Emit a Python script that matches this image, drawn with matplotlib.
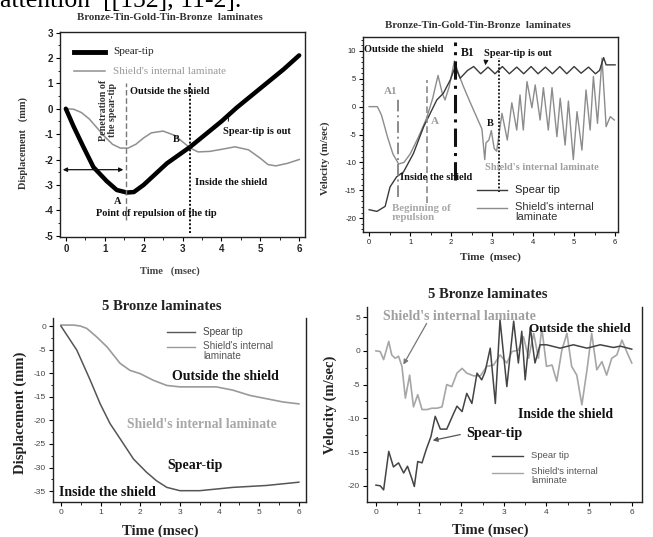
import matplotlib.pyplot as plt
from matplotlib.lines import Line2D

plt.rcParams['axes.unicode_minus'] = False

# ---- datos ----
# panel 1: desplazamiento, Bronze-Tin-Gold-Tin-Bronze
d1_t_spear = [0, 0.2, 0.45, 0.71, 1.05, 1.31, 1.57, 1.75, 2.0, 2.6, 3.2, 3.6, 4.0, 4.4, 4.8, 5.2, 5.6, 6.0]
d1_spear = [0, -0.7, -1.5, -2.3, -2.85, -3.2, -3.3, -3.28, -3.0, -2.15, -1.5, -1.0, -0.5, 0.05, 0.55, 1.05, 1.55, 2.1]
d1_t_shield = [0, 0.2, 0.4, 0.6, 0.8, 1.0, 1.2, 1.4, 1.6, 1.8, 2.0, 2.2, 2.5, 2.8, 3.0, 3.2, 3.4, 3.7,
               4.0, 4.35, 4.7, 5.0, 5.2, 5.4, 5.7, 6.0]
d1_shield = [0, -0.02, -0.15, -0.4, -0.75, -1.1, -1.4, -1.55, -1.55, -1.4, -1.15, -0.95, -0.88, -1.05,
             -1.3, -1.55, -1.7, -1.68, -1.6, -1.5, -1.62, -1.95, -2.2, -2.25, -2.15, -2.0]

# panel 2: velocidad, Bronze-Tin-Gold-Tin-Bronze
v1_t_spear = [0, 0.19, 0.39, 0.51, 0.67, 0.84, 1.08, 1.33, 1.49, 1.65, 1.81, 1.98, 2.1, 2.22, 2.4, 2.55,
              2.72, 2.9, 3.07, 3.25, 3.42, 3.6, 3.77, 3.95, 4.12, 4.3, 4.47, 4.65, 4.82, 5.0, 5.17, 5.35,
              5.52, 5.62, 5.72, 5.78, 6.0]
v1_spear = [-18.5, -18.8, -17.9, -14.4, -12.6, -11.7, -8.4, -3.6, -1.2, 1.2, 2.4, 4.8, 7.2, 5.1, 6.5, 7.2,
            5.9, 7.1, 5.9, 7.2, 5.9, 7.1, 5.9, 7.2, 5.9, 7.1, 5.9, 7.2, 5.9, 7.2, 6.0, 7.1,
            5.9, 6.5, 8.8, 7.5, 7.5]
v1_t_shield = [0, 0.2, 0.3, 0.45, 0.58, 0.72, 0.85, 1.0, 1.2, 1.4, 1.55, 1.68, 1.78, 1.85, 1.95, 2.08,
               2.2, 2.3, 2.45, 2.6, 2.75, 2.82, 2.85, 2.92, 2.98, 3.05, 3.11, 3.24, 3.37, 3.48, 3.60,
               3.68, 3.76, 3.85, 3.97, 4.05, 4.17, 4.25, 4.37, 4.46, 4.58, 4.66, 4.78, 4.86, 4.98,
               5.07, 5.19, 5.29, 5.39, 5.47, 5.57, 5.68, 5.78, 5.88, 5.98]
v1_shield = [0, 0, -1.5, -5.5, -8.5, -10.3, -10.0, -8.5, -5.5, -2.1, 1.5, 5.6, 2.5, 1.2, 3.5, 8.2,
             5.5, 3.6, 1.0, -1.5, -4.0, -9.5, -6.5, -6.0, -4.3, -7.5, -8.0, -1.2, -6.0, 0.7, -4.2,
             2.1, -4.2, 4.5, -0.2, 3.9, -2.4, 3.4, -4.2, 3.4, -5.4, 1.5, -6.9, 1.0, -9.5,
             -0.9, -7.8, 3.0, -4.2, 5.4, -3.0, 8.7, -3.6, -1.8, -2.4]

# panel 3: desplazamiento, 5 Bronze
d2_t_spear = [0, 0.4, 0.74, 0.99, 1.24, 1.58, 1.83, 2.16, 2.41, 2.67, 3.0, 3.5, 4.34, 5.18, 6.0]
d2_spear = [0, -5.1, -11.5, -16.5, -20.7, -25, -28.2, -31, -32.8, -34.2, -34.9, -34.9, -34.2, -33.8, -33.1]
d2_t_shield = [0, 0.32, 0.49, 0.65, 0.9, 1.16, 1.49, 1.74, 2.0, 2.33, 2.67, 3.0, 3.5, 3.92, 4.34, 4.76,
               5.18, 5.6, 6.0]
d2_shield = [0.2, 0.2, 0, -0.5, -2.3, -4.4, -7.9, -9.4, -10.1, -11.5, -12.6, -12.9, -12.9, -12.9, -13.6,
             -14.7, -15.4, -16.1, -16.5]

# panel 4: velocidad, 5 Bronze
v2_t_spear = [0, 0.1, 0.18, 0.3, 0.41, 0.53, 0.65, 0.74, 0.84, 0.9, 0.98, 1.08, 1.18, 1.29, 1.39, 1.51,
              1.66, 1.82, 1.9, 2.02, 2.13, 2.25, 2.37, 2.48, 2.56, 2.68, 2.8, 2.91, 3.07, 3.23, 3.34,
              3.42, 3.5, 3.62, 3.73, 3.85, 4.0, 4.32, 4.63, 4.95, 5.26, 5.57, 5.73, 6.0]
v2_spear = [-19.9, -20, -20.6, -14.9, -17.2, -16.6, -18.1, -17.1, -18.9, -20.1, -16.4, -16.6, -14.6, -12.7,
            -9.7, -11.6, -11.6, -9.3, -8.2, -9, -6.3, -7.8, -3.3, -4.3, -3.1, 0.4, -7.8, 4.6, -5.3, 4.4,
            -1.8, 2.9, -4.3, 3.4, -1.8, 0.9, 0.9, 0.4, 0.9, 0.4, 0.9, 0.5, 0.7, 0.25]
v2_t_shield = [0, 0.1, 0.18, 0.3, 0.37, 0.45, 0.53, 0.61, 0.69, 0.79, 0.88, 0.98, 1.08, 1.2, 1.31, 1.43,
               1.55, 1.66, 1.78, 1.9, 2.02, 2.13, 2.29, 2.45, 2.6, 2.76, 2.91, 3.07, 3.19, 3.34, 3.46,
               3.58, 3.7, 3.81, 3.89, 4.0, 4.13, 4.24, 4.36, 4.48, 4.59, 4.71, 4.83, 4.95, 5.06, 5.18,
               5.3, 5.41, 5.53, 5.65, 5.77, 5.88, 6.0]
v2_shield = [0, -0.1, -1.3, 1.4, -0.6, -1.1, -0.8, -2.3, -7.0, -3.6, -8.3, -6.5, -8.7, -8.7, -8.5, -8.5,
             -8.3, -5.0, -5.3, -3.3, -2.6, -3.3, -3.7, -3.7, -2.3, -2.1, -0.6, -1.8, -0.1, 0.1, 2.1,
             -1.1, 2.6, -1.1, 3.4, -2.3, -2.1, -4.5, 0.1, 2.6, -2.3, -3.6, -8.0, -2.8, 2.6, -2.8,
             -1.6, -3.6, -1.1, -0.6, 1.6, -0.1, -1.8]

W, H = 653, 537
SERIF = 'Liberation Serif'
SANS = 'Liberation Sans'


def P(px, py):
    # pixeles de la imagen -> fraccion de figura
    return px / W, 1 - py / H


def box(px0, py0, px1, py1):
    return [px0 / W, 1 - py1 / H, (px1 - px0) / W, (py1 - py0) / H]


def txt(px, py, s, size, color='#111111', bold=True, family=SERIF, **kw):
    return fig.text(*P(px, py), s, fontsize=size, color=color, family=family,
                    fontweight='bold' if bold else 'normal', va=kw.pop('va', 'center'), **kw)


def leg(px0, px1, py, color, lw, label, size, tcolor, family=SANS, bold=False, top=None):
    x0, y = P(px0, py)
    x1, _ = P(px1, py)
    fig.add_artist(Line2D([x0, x1], [y, y], color=color, lw=lw, transform=fig.transFigure))
    if top is None:
        txt(px1 + 8, py, label, size, color=tcolor, bold=bold, family=family)
    else:
        txt(px1 + 8, top, label, size, color=tcolor, bold=bold, family=family,
            va='top', linespacing=1.0)


def arrow(p_from, p_to, color, lw=0.9, style='-|>'):
    fig.add_artist(plt.matplotlib.patches.FancyArrowPatch(
        P(*p_from), P(*p_to), transform=fig.transFigure, arrowstyle=style,
        color=color, lw=lw, mutation_scale=7))


def style(ax, xticks, yticks, xminor, yminor, tsize, top=True, tcolor='#222222'):
    ax.set_xticks(xticks)
    ax.set_yticks(yticks)
    ax.set_xticks(xminor, minor=True)
    ax.set_yticks(yminor, minor=True)
    ax.tick_params(which='major', length=3, width=0.8, labelsize=tsize, labelcolor=tcolor, pad=2)
    ax.tick_params(which='minor', length=1.8, width=0.6)
    for lab in ax.get_xticklabels() + ax.get_yticklabels():
        lab.set_family(SANS)
    for s in ax.spines.values():
        s.set_linewidth(1.0)
        s.set_color('#222222')
    if not top:
        ax.spines['top'].set_visible(False)


fig = plt.figure(figsize=(W / 100, H / 100), dpi=100)

# texto cortado en la parte superior
fig.text(*P(0, 7), 'attention  [[152], 11-2].', fontsize=18.5, family=SERIF, va='baseline')

# ---------------- panel 1 ----------------
ax1 = fig.add_axes(box(60, 32, 305, 237))
ax1.plot(d1_t_shield, d1_shield, color='#8f8f8f', lw=1.1)
ax1.plot(d1_t_spear, d1_spear, color='#000000', lw=3.2, solid_capstyle='round')
ax1.set_xlim(-0.15, 6.15)
ax1.set_ylim(-5.05, 3.02)
style(ax1, range(0, 7), range(-5, 4), [i / 2 for i in range(0, 13)], [i / 2 for i in range(-10, 7)], 7)
for lab in ax1.get_xticklabels() + ax1.get_yticklabels():
    lab.set_fontweight('bold')
ax1.vlines(1.55, -4.4, 1.0, color='#777777', lw=1.0, linestyles=(0, (4, 2)))
ax1.vlines(3.2, -4.9, 1.0, color='#111111', lw=1.4, linestyles=(0, (1, 1)))
ax1.annotate('', xy=(-0.15, -2.4), xytext=(1.55, -2.4),
             arrowprops=dict(arrowstyle='<|-|>', color='#111111', lw=0.9, mutation_scale=6))
txt(170, 17, 'Bronze-Tin-Gold-Tin-Bronze  laminates', 7.8, ha='center', color='#333333')
txt(23, 143, 'Displacement   (mm)', 7.5, rotation=90, ha='center', color='#333333')
txt(170, 271, 'Time   (msec)', 7.5, ha='center', color='#444444')
leg(74, 105, 52, '#000000', 3.5, 'Spear-tip', 8, '#222222', family=SERIF)
leg(74, 105, 71, '#8f8f8f', 1.1, "Shield's internal laminate", 8, '#9a9a9a', family=SERIF)
txt(108, 110, 'Penetration of\nthe spear-tip', 7.2, rotation=90, ha='center', color='#333333',
    linespacing=1.0)
txt(130, 92, 'Outside the shield', 7.5)
txt(173, 139, 'B', 7.5)
txt(223, 131, 'Spear-tip is out', 7.5)
arrow((228, 124), (229, 115), '#111111', lw=0.7, style='-')
txt(195, 183, 'Inside the shield', 7.5)
txt(114, 201, 'A', 7.5)
txt(96, 213, 'Point of repulsion of the tip', 7.5)

# ---------------- panel 2 ----------------
ax2 = fig.add_axes(box(363, 37, 618, 232))
ax2.plot(v1_t_shield, v1_shield, color='#8c8c8c', lw=1.0)
ax2.plot(v1_t_spear, v1_spear, color='#3a3a3a', lw=1.0)
ax2.set_xlim(-0.15, 6.07)
ax2.set_ylim(-22.5, 12.5)
style(ax2, range(0, 7), range(-20, 11, 5), [i / 2 for i in range(0, 13)], range(-22, 13, 1), 5.5)
ax2.vlines(0.7, -16.2, 1.7, color='#8a8a8a', lw=1.4, linestyles=(0, (6, 2, 1, 2)))
ax2.vlines(1.4, -17.3, 4.8, color='#8a8a8a', lw=1.2, linestyles=(0, (4, 2)))
ax2.vlines(2.1, -13.2, 11.6, color='#111111', lw=2.2, linestyles=(0, (6, 2, 1, 2)))
ax2.vlines(3.17, -15.3, 8.7, color='#111111', lw=1.3, linestyles=(0, (1, 1)))
txt(478, 26, 'Bronze-Tin-Gold-Tin-Bronze  laminates', 7.8, ha='center', color='#333333')
txt(325, 158, 'Velocity (m/sec)', 7.8, rotation=90, ha='center', color='#333333')
txt(490, 257, 'Time  (msec)', 8, ha='center', color='#333333')
txt(364, 50, 'Outside the shield', 7.5)
txt(461, 53, 'B1', 8.5)
txt(484, 54, 'Spear-tip is out', 7.5)
arrow((486, 60), (485, 68), '#111111', lw=0.7)
txt(384, 92, 'A1', 8, color='#9a9a9a')
txt(431, 122, 'A', 8, color='#9a9a9a')
txt(487, 123, 'B', 7.5)
txt(485, 167, "Shield's internal laminate", 7.5, color='#a0a0a0')
txt(400, 178, 'Inside the shield', 7.5)
txt(392, 213, 'Beginning of\nrepulsion', 7.8, color='#a8a8a8', linespacing=1.0)
leg(477, 507, 190, '#3a3a3a', 1.0, 'Spear tip', 8, '#222222')
leg(477, 507, 208, '#8c8c8c', 1.0, "Shield's internal\nlaminate", 8, '#333333', top=202)

# ---------------- panel 3 ----------------
ax3 = fig.add_axes(box(53, 318, 306, 502))
ax3.plot(d2_t_shield, d2_shield, color='#9a9a9a', lw=1.2)
ax3.plot(d2_t_spear, d2_spear, color='#555555', lw=1.1)
ax3.set_xlim(-0.2, 6.18)
ax3.set_ylim(-37.3, 1.7)
style(ax3, range(0, 7), range(-35, 1, 5), [i / 2 for i in range(0, 13)],
      [i * 2.5 for i in range(-14, 1)], 6, top=False, tcolor='#444444')
txt(162, 307, '5 Bronze laminates', 10.5, ha='center', color='#222222')
txt(20, 413, 'Displacement (mm)', 10.5, rotation=90, ha='center', color='#222222')
txt(160, 531, 'Time (msec)', 10.5, ha='center', color='#222222')
leg(167, 195, 332, '#555555', 1.0, 'Spear tip', 7.2, '#444444')
leg(167, 195, 347, '#9a9a9a', 1.0, "Shield's internal\nlaminate", 7.2, '#555555', top=341)
txt(172, 376, 'Outside the shield', 10)
txt(127, 424, "Shield's internal laminate", 9.8, color='#a8a8a8')
txt(167, 465, 'Spear-tip', 10)
txt(59, 493, 'Inside the shield', 10)

# ---------------- panel 4 ----------------
ax4 = fig.add_axes(box(367, 307, 642, 502))
ax4.plot(v2_t_shield, v2_shield, color='#a6a6a6', lw=1.2)
ax4.plot(v2_t_spear, v2_spear, color='#444444', lw=1.1)
ax4.set_xlim(-0.21, 6.24)
ax4.set_ylim(-22.4, 6.5)
style(ax4, range(0, 7), range(-20, 6, 5), [i / 2 for i in range(0, 13)],
      [i * 2.5 for i in range(-8, 3)], 6, top=False, tcolor='#444444')
txt(488, 294, '5 Bronze laminates', 10.5, ha='center', color='#222222')
txt(330, 405, 'Velocity (m/sec)', 10.5, rotation=90, ha='center', color='#222222')
txt(490, 530, 'Time (msec)', 10.5, ha='center', color='#222222')
txt(383, 317, "Shield's internal laminate", 10, color='#a0a0a0')
arrow((428, 321), (402, 367), '#777777')
txt(529, 329, 'Outside the shield', 9.5)
txt(518, 415, 'Inside the shield', 9.8)
txt(466, 434, 'Spear-tip', 10.2)
arrow((463, 434), (430, 441), '#555555')
leg(492, 523, 456, '#444444', 1.0, 'Spear tip', 6.8, '#555555')
leg(492, 523, 473, '#a6a6a6', 1.0, "Shield's internal\nlaminate", 6.8, '#555555', top=467)

fig.savefig('out.png', dpi=100)
